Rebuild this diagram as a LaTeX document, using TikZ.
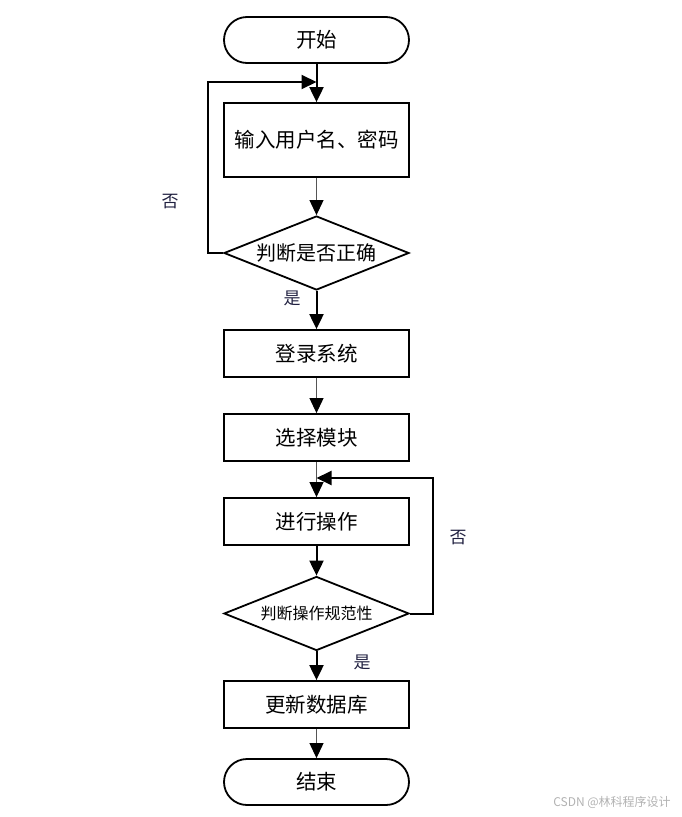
\documentclass[tikz,border=0pt]{standalone}
\usepackage{fontspec}
\setmainfont{Noto Sans CJK SC}
\usetikzlibrary{arrows.meta,shapes.geometric,positioning}
\definecolor{lbl}{HTML}{202040}
\definecolor{thin}{HTML}{555555}
\tikzset{
  box/.style={draw,line width=1.8pt,minimum width=185pt,minimum height=47pt,inner sep=0pt,font=\fontsize{20.5}{20.5}\selectfont},
  term/.style={box,rounded corners=23pt,minimum height=46pt},
  dec/.style={draw,line width=1.8pt,diamond,aspect=2.5,minimum width=185pt,minimum height=74pt,inner sep=0pt},
  thick arr/.style={line width=2pt,-{Triangle[width=14pt,length=15pt]}},
  thin arr/.style={line width=1pt,color=thin,-{Triangle[width=14pt,length=15pt,color=black]}},
  looparr/.style={line width=2pt,-{Triangle[width=14pt,length=15pt]}},
  yn/.style={font=\fontsize{17}{17}\selectfont,text=lbl,inner sep=0pt}
}
\begin{document}
\begin{tikzpicture}[x=1pt,y=-1pt]
\useasboundingbox (0,0) rectangle (681,817);
\node[term] (start) at (316.5,40) {开始};
\node[box,minimum height=74pt] (inp) at (316.5,140) {输入用户名、密码};
\node[dec,font=\fontsize{20}{20}\selectfont] (d1) at (316.5,253) {判断是否正确};
\node[box] (login) at (316.5,353.5) {登录系统};
\node[box] (sel) at (316.5,437.5) {选择模块};
\node[box] (op) at (316.5,521.5) {进行操作};
\node[dec,font=\fontsize{16}{16}\selectfont] (d2) at (316.5,613.5) {判断操作规范性};
\node[box] (upd) at (316.5,704.5) {更新数据库};
\node[term] (end) at (316.5,782) {结束};
\coordinate (j1) at (316.5,82);
\coordinate (j2) at (316.5,478);
\draw[thick arr] (start) -- (inp);
\draw[thin arr] (inp) -- (d1);
\draw[thick arr] (d1) -- (login);
\draw[thin arr] (login) -- (sel);
\draw[thin arr] (sel) -- (op);
\draw[thick arr] (op) -- (d2);
\draw[thick arr] (d2) -- (upd);
\draw[thin arr] (upd) -- (end);
\draw[looparr] (d1.west) -- (208,253) -- (208,82) -- (j1);
\draw[looparr] (d2.east) -- (433,613.5) -- (433,478) -- (j2);
\node[yn] (n1) at (170,202) {否};
\node[yn] (y1) at (292,298) {是};
\node[yn] (n2) at (458,538) {否};
\node[yn] (y2) at (362,662) {是};
\node[font=\fontsize{12}{12}\selectfont,text=black!30,inner sep=0pt] (wm) at (612,802) {CSDN @林科程序设计};
\end{tikzpicture}
\end{document}
